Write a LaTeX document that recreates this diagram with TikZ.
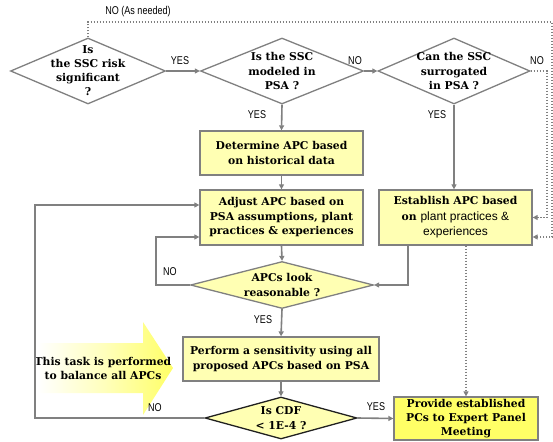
\documentclass[tikz,border=0pt]{standalone}
\usepackage{fontspec}
\setmainfont{DejaVu Serif}
\newfontfamily\sansf{Liberation Sans}
\newfontfamily\labf[FakeStretch=0.8]{Liberation Sans}
\usetikzlibrary{shapes.geometric,arrows.meta,calc}
\definecolor{lg}{HTML}{808080}
\definecolor{pale}{HTML}{FFFFB3}
\definecolor{bright}{HTML}{FFFF66}
\definecolor{dk}{HTML}{202020}
\tikzset{
 base/.style={draw=lg, line width=1.3pt, inner sep=0pt},
 dia/.style={base, diamond},
 boxn/.style={base, rectangle, fill=pale},
 txt/.style={font=\fontsize{10.8}{14.5}\selectfont\bfseries, align=center, inner sep=0pt},
 conn/.style={draw=lg, line width=1.6pt, -{Triangle[length=5pt,width=5pt]}},
 dconn/.style={draw=lg, line width=1.6pt, dash pattern=on 1.5pt off 1.5pt, -{Triangle[length=5pt,width=5pt]}},
 lab/.style={font=\labf\fontsize{11.3}{12}\selectfont, inner sep=0pt},
}
\begin{document}
\begin{tikzpicture}[x=1pt,y=-1pt]
\useasboundingbox (0,0) rectangle (553,441);

% big shaded arrow
\shade[left color=white, right color=bright, middle color=bright!45!white]
  (38,343) -- (143,343) -- (143,322) -- (173,368) -- (143,415) -- (143,393) -- (38,393) -- cycle;
\node[txt] (note) at (103,368.5) {This task is performed\\to balance all APCs};

% diamonds
\node[dia, fill=white, minimum width=155pt, minimum height=66pt] (d1) at (88,71) {};
\node[txt, font=\fontsize{10.8}{14}\selectfont\bfseries] (t1) at (d1) {Is\\the SSC risk\\significant\\?};
\node[dia, fill=white, minimum width=163pt, minimum height=66pt] (d2) at (282,71) {};
\node[txt] (t2) at (d2) {Is the SSC\\modeled in\\PSA ?};
\node[dia, fill=white, minimum width=152pt, minimum height=66pt] (d3) at (454,71) {};
\node[txt] (t3) at (d3) {Can the SSC\\surrogated\\in PSA ?};

% boxes
\node[boxn, minimum width=163pt, minimum height=44pt] (b1) at (281.5,153) {};
\node[txt] (bt1) at (b1) {Determine APC based\\on historical data};
\node[boxn, minimum width=163pt, minimum height=55pt] (b2) at (281.5,217.5) {};
\node[txt] (bt2) at (b2) {Adjust APC based on\\PSA assumptions, plant\\practices \& experiences};
\node[boxn, minimum width=153pt, minimum height=55pt] (b3) at (455.5,217.5) {};
\node[txt, font=\fontsize{10.8}{15.5}\selectfont\bfseries] (bt3) at (b3) {Establish APC based\\on {\sansf\mdseries\fontsize{12}{15.5}\selectfont plant practices \&}\\{\sansf\mdseries\fontsize{12}{15.5}\selectfont experiences}};

\node[dia, fill=pale, minimum width=183pt, minimum height=47pt] (d4) at (282,285) {};
\node[txt] (t4) at (d4) {APCs look\\reasonable ?};

\node[boxn, minimum width=196pt, minimum height=44pt] (b4) at (281,359) {};
\node[txt] (bt4) at (b4) {Perform a sensitivity using all\\proposed APCs based on PSA};

\node[dia, draw=dk, fill=pale, minimum width=152pt, minimum height=42pt] (d5) at (281,418) {};
\node[txt] (t5) at (d5) {Is CDF\\< 1E-4 ?};

\node[boxn, fill=bright, minimum width=144pt, minimum height=43pt] (b5) at (466,418.5) {};
\node[txt, font=\fontsize{10.8}{14}\selectfont\bfseries] (bt5) at (b5) {Provide established\\PCs to Expert Panel\\Meeting};

% coordinates
\coordinate (cTL) at (88,22);
\coordinate (cTR) at (552,22);
\coordinate (cR1) at (547,71);
\coordinate (cL1) at (156,285);
\coordinate (cL2) at (35,418);

% connectors
\draw[conn] (d1.east) -- (d2.west);
\draw[conn] (d2.east) -- (d3.west);
\draw[conn] (d2.south) -- (b1.north);
\draw[conn] (b1.south) -- (b2.north);
\draw[conn] (d3.south) -- (d3.south |- b3.north);
\draw[conn] (b2.south) -- (d4.north);
\draw[conn] (d4.west) -- (cL1) |- ([yshift=-19.5pt]b2.west);
\draw[conn] ([xshift=-47.5pt]b3.south) |- (d4.east);
\draw[conn] (d4.south) -- (b4.north);
\draw[conn] (b4.south) -- (d5.north);
\draw[conn] (d5.east) -- (b5.west);
\draw[conn] (d5.west) -- (cL2) |- ([yshift=12.5pt]b2.west);

\draw[dconn] (d1.north) -- (cTL) -- (cTR) |- ([yshift=-19.5pt]b3.east);
\draw[dconn] (d3.east) -- (cR1) |- (b3.east);
\draw[dconn] ([xshift=10.5pt]b3.south) -- (b5.north);

% labels
\node[lab] (l0) at (138,12) {NO (As needed)};
\node[lab] (l1) at (180,61) {YES};
\node[lab] (l2) at (355,61) {NO};
\node[lab] (l3) at (537,61) {NO};
\node[lab] (l4) at (257,115) {YES};
\node[lab] (l5) at (437,115) {YES};
\node[lab] (l6) at (170,272) {NO};
\node[lab] (l7) at (263,320) {YES};
\node[lab] (l8) at (155,408) {NO};
\node[lab] (l9) at (376,407) {YES};
\end{tikzpicture}
\end{document}
